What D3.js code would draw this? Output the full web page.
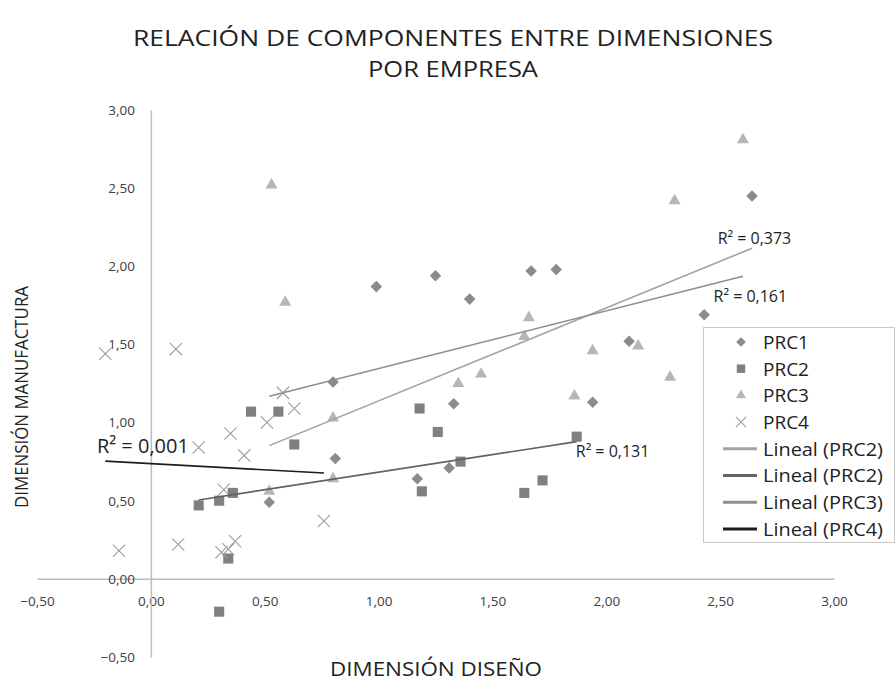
<!DOCTYPE html>
<html>
<head>
<meta charset="utf-8">
<script src="https://cdn.jsdelivr.net/npm/d3@7"></script>
<style>
    body { margin: 0; background: #fff; }
    text { font-family: "Open Sans", sans-serif; }
</style>
</head>
<body>
<div id="chartContainer"></div>
<script>
// Series: [Dimensión diseño, Dimensión manufactura]
const prc1 = [[0.52, 0.49], [0.80, 1.26], [0.81, 0.77], [0.99, 1.87], [1.17, 0.64],
    [1.25, 1.94], [1.31, 0.71], [1.33, 1.12], [1.40, 1.79], [1.67, 1.97],
    [1.78, 1.98], [1.94, 1.13], [2.10, 1.52], [2.43, 1.69], [2.64, 2.45]];
const prc2 = [[0.21, 0.47], [0.30, 0.50], [0.36, 0.55], [0.34, 0.13], [0.30, -0.21],
    [0.44, 1.07], [0.56, 1.07], [0.63, 0.86], [1.18, 1.09], [1.26, 0.94],
    [1.36, 0.75], [1.19, 0.56], [1.64, 0.55], [1.72, 0.63], [1.87, 0.91]];
const prc3 = [[0.52, 0.56], [0.53, 2.52], [0.59, 1.77], [0.80, 0.64], [0.80, 1.03],
    [1.35, 1.25], [1.45, 1.31], [1.64, 1.55], [1.66, 1.67], [1.86, 1.17],
    [1.94, 1.46], [2.14, 1.49], [2.28, 1.29], [2.30, 2.42], [2.60, 2.81]];
const prc4 = [[-0.20, 1.44], [-0.14, 0.18], [0.11, 1.47], [0.12, 0.22], [0.21, 0.84],
    [0.31, 0.17], [0.32, 0.57], [0.34, 0.19], [0.35, 0.93], [0.37, 0.24],
    [0.41, 0.79], [0.51, 1.00], [0.58, 1.19], [0.63, 1.09], [0.76, 0.37]];

const seriesNames = ["PRC1", "PRC2", "PRC3", "PRC4"];
const trendNames = ["Lineal (PRC2)", "Lineal (PRC2)", "Lineal (PRC3)", "Lineal (PRC4)"];
const r2Labels = ["R² = 0,373", "R² = 0,131", "R² = 0,161", "R² = 0,001"];
const xTicks = [-0.5, 0, 0.5, 1, 1.5, 2, 2.5, 3];
const yTicks = [-0.5, 0, 0.5, 1, 1.5, 2, 2.5, 3];

function init() {
    const W = 895, H = 681;
    const fmt = d => d3.format(".2f")(d).replace(".", ",");

    const svg = d3.select("#chartContainer").append("svg")
        .attr("width", W)
        .attr("height", H);

    const x = d3.scaleLinear().domain([-0.5, 3]).range([37, 834]);
    const y = d3.scaleLinear().domain([-0.5, 3]).range([657, 110]);

    // Title (two lines)
    svg.append("text")
        .attr("x", 453).attr("y", 46)
        .attr("text-anchor", "middle")
        .attr("textLength", 640).attr("lengthAdjust", "spacingAndGlyphs")
        .style("font-size", "22.5px").style("fill", "#222")
        .text("RELACIÓN DE COMPONENTES  ENTRE DIMENSIONES");
    svg.append("text")
        .attr("x", 453).attr("y", 77)
        .attr("text-anchor", "middle")
        .attr("textLength", 170).attr("lengthAdjust", "spacingAndGlyphs")
        .style("font-size", "22.5px").style("fill", "#222")
        .text("POR EMPRESA");

    // Axes crossing at zero
    const xAxis = svg.append("g")
        .attr("transform", `translate(0, ${y(0)})`)
        .call(d3.axisBottom(x).tickValues(xTicks).tickFormat(fmt).tickSize(0).tickPadding(18));
    const yAxis = svg.append("g")
        .attr("transform", `translate(${x(0)}, 0)`)
        .call(d3.axisLeft(y).tickValues(yTicks).tickFormat(fmt).tickSize(0).tickPadding(16));

    [xAxis, yAxis].forEach(a => {
        a.select(".domain").attr("stroke", "#bdbdbd").attr("stroke-width", 1.5);
        a.selectAll("text")
            .style("font-size", "13.5px")
            .style("fill", "#404040")
            .style("font-family", "'Open Sans', sans-serif");
    });

    // Axis titles
    svg.append("text")
        .attr("x", 436).attr("y", 676)
        .attr("text-anchor", "middle")
        .attr("textLength", 212).attr("lengthAdjust", "spacingAndGlyphs")
        .style("font-size", "20px").style("fill", "#222")
        .text("DIMENSIÓN DISEÑO");
    svg.append("text")
        .attr("transform", "translate(28, 397) rotate(-90)")
        .attr("text-anchor", "middle")
        .attr("textLength", 222).attr("lengthAdjust", "spacingAndGlyphs")
        .style("font-size", "19px").style("fill", "#222")
        .text("DIMENSIÓN MANUFACTURA");

    // Marker styles
    const markers = [
        { sym: d3.symbolDiamond2, size: 85, fill: "#8b8b8f", stroke: "none" },
        { sym: d3.symbolSquare2, size: 130, fill: "#808084", stroke: "none" },
        { sym: d3.symbolTriangle2, size: 105, fill: "#b6b6b6", stroke: "none" },
        { sym: d3.symbolX, size: 100, fill: "none", stroke: "#9d9d9d" }
    ];
    const trendStyles = [
        { color: "#a3a3a3", width: 1.6 },
        { color: "#626262", width: 1.6 },
        { color: "#8e8e8e", width: 1.6 },
        { color: "#1c1c1c", width: 1.6 }
    ];
    const series = [prc1, prc2, prc3, prc4];

    // Linear trend per series (least squares), drawn over the series' x range
    function trend(data) {
        const mx = d3.mean(data, d => d[0]);
        const my = d3.mean(data, d => d[1]);
        const b = d3.sum(data, d => (d[0] - mx) * (d[1] - my)) / d3.sum(data, d => (d[0] - mx) ** 2);
        const a = my - b * mx;
        const [x0, x1] = d3.extent(data, d => d[0]);
        return [[x0, a + b * x0], [x1, a + b * x1]];
    }

    const line = d3.line().x(d => x(d[0])).y(d => y(d[1]));

    // Points
    series.forEach((data, i) => {
        const m = markers[i];
        svg.append("g").selectAll("path")
            .data(data)
            .enter().append("path")
            .attr("transform", d => `translate(${x(d[0])}, ${y(d[1])})`)
            .attr("d", d3.symbol().type(m.sym).size(m.size))
            .attr("fill", m.fill)
            .attr("stroke", m.stroke)
            .attr("stroke-width", 1.1);
    });

    // Trend lines
    series.forEach((data, i) => {
        svg.append("path")
            .datum(trend(data))
            .attr("d", line)
            .attr("fill", "none")
            .attr("stroke", trendStyles[i].color)
            .attr("stroke-width", trendStyles[i].width);
    });

    // R² labels (placed where the picture has them)
    const r2Pos = [[2.489, 2.143, 16], [1.866, 0.781, 16], [2.471, 1.772, 16], [-0.237, 0.806, 20]];
    r2Labels.forEach((t, i) => {
        svg.append("text")
            .attr("x", x(r2Pos[i][0])).attr("y", y(r2Pos[i][1]))
            .style("font-size", r2Pos[i][2] + "px").style("fill", "#222")
            .text(t);
    });

    // Legend
    const legend = svg.append("g").attr("transform", "translate(703, 327)");
    legend.append("rect")
        .attr("x", 0.5).attr("y", 0.5)
        .attr("width", 191).attr("height", 215)
        .attr("fill", "#fff").attr("stroke", "#c8c8c8");
    const rowY = i => 15 + i * 26.7;
    seriesNames.forEach((name, i) => {
        const m = markers[i];
        legend.append("path")
            .attr("transform", `translate(38, ${rowY(i)})`)
            .attr("d", d3.symbol().type(m.sym).size(m.size * 0.7))
            .attr("fill", m.fill)
            .attr("stroke", m.stroke)
            .attr("stroke-width", 1.1);
        legend.append("text")
            .attr("x", 60).attr("y", rowY(i))
            .attr("dy", "0.36em")
            .style("font-size", "19px").style("fill", "#222")
            .text(name);
    });
    trendNames.forEach((name, j) => {
        const i = j + 4;
        legend.append("line")
            .attr("x1", 20).attr("x2", 54)
            .attr("y1", rowY(i)).attr("y2", rowY(i))
            .attr("stroke", trendStyles[j].color)
            .attr("stroke-width", 3);
        legend.append("text")
            .attr("x", 60).attr("y", rowY(i))
            .attr("dy", "0.36em")
            .attr("textLength", 120).attr("lengthAdjust", "spacingAndGlyphs")
            .style("font-size", "19px").style("fill", "#222")
            .text(name);
    });
}
window.onload = init;
</script>
</body>
</html>
